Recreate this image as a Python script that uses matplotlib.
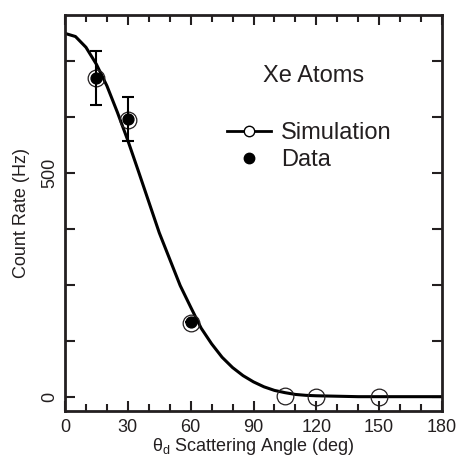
import numpy as np
import matplotlib
matplotlib.use('Agg')
import matplotlib.pyplot as plt
from matplotlib.lines import Line2D

plt.rcParams['font.family'] = ['Liberation Sans', 'DejaVu Sans']
ink = '#231f20'

# simulation curve
curve_x = [0, 5, 10, 15, 20, 25, 30, 35, 40, 45, 50, 55, 60, 65, 70, 75, 80,
           85, 90, 95, 100, 105, 110, 115, 120, 130, 140, 180]
curve_y = [811, 804, 780, 742, 694, 635, 572, 504, 435, 366, 307, 248, 200,
           153, 118, 88, 65, 47, 33, 22, 14, 9, 5, 3, 2, 1, 0, 0]

# simulation points (open circles)
sim_x = [15, 30, 60, 105, 120, 150]
sim_y = [712, 617, 164, 2, 0, 0]

# measured data
data_x = [15, 30, 60]
data_y = [711, 620, 167]
data_err = [60, 50, 0]

fig = plt.figure(figsize=(4.6, 4.58), dpi=100)
ax = fig.add_axes([0.1413, 0.1026, 0.8196, 0.8646])

ax.plot(curve_x, curve_y, color='black', lw=2.2, zorder=2)
ax.plot(sim_x, sim_y, 'o', ms=12, mfc='none', mec=ink, mew=0.9, zorder=3)
ax.errorbar(data_x, data_y, yerr=data_err, fmt='o', color='black', ms=7.8,
            elinewidth=1.5, capsize=4.3, capthick=1.5, zorder=4)

ax.set_xlim(0, 180)
ax.set_ylim(-32, 852)
ax.set_xticks(np.arange(0, 181, 30))
ax.set_xticks(np.arange(0, 181, 10), minor=True)
ax.set_yticks(np.arange(0, 751, 125))
ax.set_yticklabels(['0', '', '', '', '500', '', ''], rotation=90, va='center')

ax.tick_params(which='both', direction='in', top=True, right=True,
               width=1.5, color=ink, labelcolor=ink, labelsize=13)
ax.tick_params(which='major', length=7.2)
ax.tick_params(which='minor', length=5)
ax.tick_params(axis='x', pad=6)
ax.tick_params(axis='y', pad=5)
for s in ax.spines.values():
    s.set_linewidth(2)
    s.set_color(ink)

ax.set_xlabel(r'$\mathregular{\theta_d}$ Scattering Angle (deg)', fontsize=13,
              color=ink, labelpad=0)
ax.set_ylabel('Count Rate (Hz)', fontsize=13, color=ink, labelpad=8)

ax.text(0.659, 0.846, 'Xe Atoms', transform=ax.transAxes, fontsize=17,
        color=ink, ha='center', va='center')

handles = [Line2D([], [], color='black', lw=2, marker='o', ms=7.5, mfc='white',
                  mec='black', mew=1),
           Line2D([], [], color='black', lw=0, marker='o', ms=7.5)]
ax.legend(handles, ['Simulation', 'Data'], loc='upper left',
          bbox_to_anchor=(0.43, 0.73), frameon=False, fontsize=17,
          handlelength=1.85, handletextpad=0.42, labelspacing=0.23,
          borderpad=0, borderaxespad=0, labelcolor=ink)

fig.savefig('out.png', dpi=100)
